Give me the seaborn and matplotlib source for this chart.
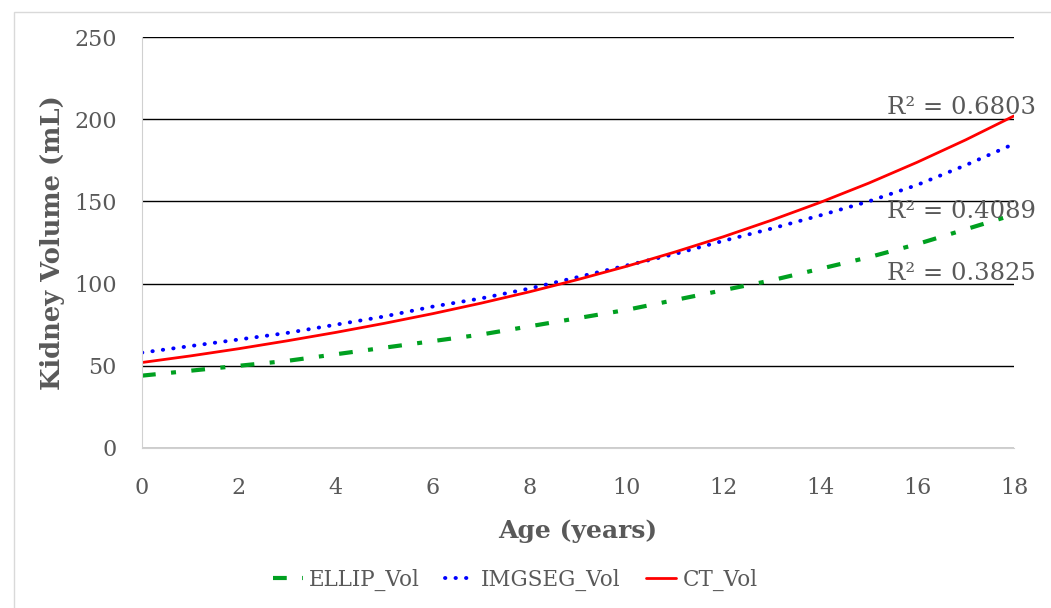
import pandas as pd
import seaborn as sns
import matplotlib.pyplot as plt
from matplotlib.patches import Rectangle

# Trend line values (age in years, kidney volume in mL)
ages = list(range(0, 19))
ellip_vol = [44, 47, 50, 53, 57, 61, 65, 69, 74, 79, 84, 90, 96, 102, 109, 116, 124, 133, 142]
imgseg_vol = [58, 62, 66, 70, 75, 80, 86, 91, 97, 104, 111, 118, 126, 133.5, 141.5, 150, 160, 172, 185]
ct_vol = [52, 56, 60.4, 65.2, 70.3, 75.8, 81.7, 88.1, 95, 102.5, 110.5, 119.2, 128.5, 138.6, 149.4, 161.1, 173.8, 187.4, 202]
r2_labels = ['R² = 0.6803', 'R² = 0.4089', 'R² = 0.3825']
r2_y = [200, 137, 99]

sns.set_style('white')
plt.rcParams['font.family'] = ['DejaVu Serif']
grey = '#595959'

df = pd.DataFrame({'age': ages * 3,
                   'volume': ellip_vol + imgseg_vol + ct_vol,
                   'series': ['ELLIP_Vol'] * 19 + ['IMGSEG_Vol'] * 19 + ['CT_Vol'] * 19})

fig = plt.figure(figsize=(10.51, 6.08), dpi=100)
ax = fig.add_axes([0.1351, 0.2632, 0.8297, 0.6759])

# Draw each trend line: colour, dash pattern, width, cap style
styles = {'ELLIP_Vol': ('#00a020', (0, (3.3, 3.7, 1.2, 3.7)), 3.0, 'butt'),
          'IMGSEG_Vol': ('#0000ff', (0, (0.1, 2.6)), 2.8, 'round'),
          'CT_Vol': ('#ff0000', '-', 2.0, 'butt')}
for name, (col, ls, lw, cap) in styles.items():
    sns.lineplot(data=df[df['series'] == name], x='age', y='volume', ax=ax,
                 color=col, linestyle=ls, linewidth=lw, label=name,
                 dash_capstyle=cap)

ax.set_xlim(0, 18)
ax.set_ylim(0, 250)
ax.set_xticks(range(0, 19, 2))
ax.set_yticks(range(0, 251, 50))
ax.yaxis.grid(True, color='#000000', linewidth=1)
ax.set_axisbelow(True)
for s in ['top', 'right']:
    ax.spines[s].set_visible(False)
ax.spines['left'].set_color('#d0d0d0')
ax.spines['bottom'].set_color('#d0d0d0')
ax.tick_params(axis='both', labelsize=16, colors=grey, length=0)
ax.tick_params(axis='x', pad=21)
ax.tick_params(axis='y', pad=18)

ax.set_xlabel('Age (years)', fontsize=18, fontweight='bold', color=grey, labelpad=14)
ax.set_ylabel('Kidney Volume (mL)', fontsize=18.5, fontweight='bold', color=grey, labelpad=7)

for txt, yv in zip(r2_labels, r2_y):
    ax.text(18.45, yv, txt, fontsize=17.5, color=grey, ha='right', va='bottom', clip_on=False)

ax.get_legend().remove()
handles, labels = ax.get_legend_handles_labels()
leg = fig.legend(handles, labels, loc='center', bbox_to_anchor=(0.49, 0.046), ncol=3,
                 frameon=False, fontsize=15.5, handlelength=1.4, handletextpad=0.3,
                 columnspacing=1.15)
for t in leg.get_texts():
    t.set_color(grey)

# Light chart border
fig.patches.append(Rectangle((0.0133, -0.01), 1.0, 0.99, transform=fig.transFigure,
                             fill=False, edgecolor='#d9d9d9', linewidth=1))

fig.savefig('out.png', dpi=100)
